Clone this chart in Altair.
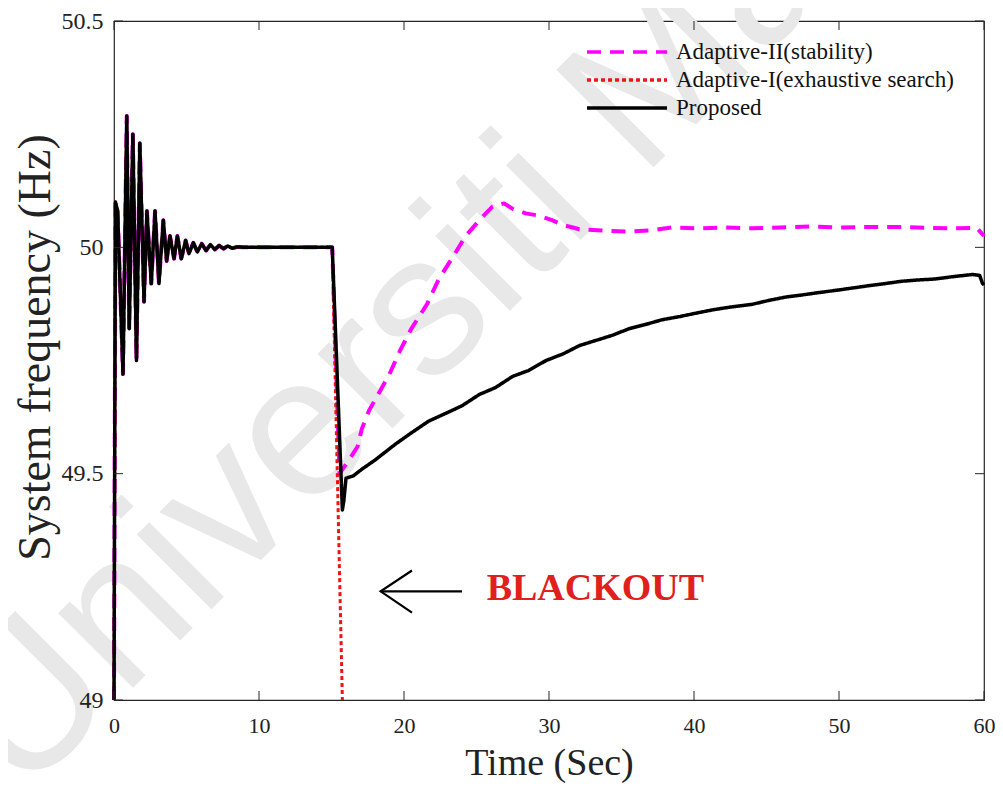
import altair as alt
import pandas as pd

# ---------------- data ----------------
SERIES = ["Adaptive-II(stability)", "Adaptive-I(exhaustive search)", "Proposed"]
COLORS = ["#ff00ff", "#f01414", "#000000"]
DASHES = [[14, 9], [4, 3], [1, 0]]

# common transient before the blackout (all three curves coincide)
PRE_T = [0.0, 0.1, 0.25, 0.62, 0.88, 1.05, 1.3, 1.55, 1.78, 2.07, 2.27, 2.57, 2.83,
         3.1, 3.4, 3.63, 3.86, 4.14, 4.37, 4.64, 4.94, 5.17, 5.47, 5.75, 6.05, 6.35,
         6.65, 6.95, 7.25, 7.55, 7.85, 8.15, 8.5, 9.0, 15.05]
PRE_F = [49.0, 50.1, 50.08, 49.72, 50.29, 49.82, 50.25, 49.75, 50.23, 49.88, 50.08, 49.92, 50.08,
         49.92, 50.06, 49.97, 50.025, 49.975, 50.025, 49.975, 50.015, 49.986, 50.01, 49.99, 50.008, 49.993,
         50.006, 49.995, 50.004, 49.997, 50.003, 49.998, 50.001, 50.0, 50.0]

PROP_T = [15.75, 15.85, 16.0, 16.5, 17.1, 18.0, 19.4, 20.5, 21.7, 23.0, 24.0, 25.2, 26.3,
          27.5, 28.6, 29.8, 31.0, 32.1, 33.3, 34.4, 35.5, 36.7, 37.8, 39.0, 40.2, 41.3,
          42.5, 44.0, 45.2, 46.3, 47.5, 48.6, 49.8, 50.9, 52.0, 53.2, 54.3, 55.5, 56.6,
          57.8, 59.2, 59.7, 59.9, 60.0]
PROP_F = [49.42, 49.44, 49.49, 49.495, 49.51, 49.53, 49.565, 49.59, 49.616, 49.635, 49.65, 49.675, 49.69,
          49.715, 49.728, 49.75, 49.765, 49.783, 49.795, 49.806, 49.82, 49.83, 49.84, 49.847, 49.855, 49.862,
          49.868, 49.874, 49.883, 49.89, 49.895, 49.9, 49.905, 49.91, 49.915, 49.92, 49.925, 49.928, 49.93,
          49.935, 49.94, 49.938, 49.92, 49.917]

AD2_T = [15.55, 16.2, 16.8, 17.1, 17.6, 18.3, 19.0, 19.7, 20.5, 21.3, 21.6, 22.4, 23.3,
         24.25, 25.2, 26.1, 26.9, 27.5, 28.4, 29.3, 30.2, 30.9, 32.1, 33.7, 35.3, 36.9,
         38.5, 40.3, 42.2, 44.0, 46.0, 48.0, 50.0, 52.0, 54.0, 56.0, 58.0, 59.5, 60.0]
AD2_F = [49.5, 49.53, 49.56, 49.6, 49.64, 49.68, 49.72, 49.77, 49.82, 49.86, 49.875, 49.93, 49.975,
         50.025, 50.06, 50.09, 50.097, 50.085, 50.075, 50.07, 50.06, 50.05, 50.04, 50.037, 50.035, 50.037,
         50.044, 50.042, 50.044, 50.042, 50.044, 50.046, 50.044, 50.045, 50.045, 50.043, 50.042, 50.043, 50.025]

AD1_T = [15.75]
AD1_F = [49.0]

X_TICKS = [0, 10, 20, 30, 40, 50, 60]
Y_TICKS = [49.0, 49.5, 50.0, 50.5]

# annotation (data units)
NOTE_TEXT = "BLACKOUT"
NOTE_X, NOTE_Y = 25.7, 49.245
ARROW_SHAFT_X = [18.39, 24.0]
ARROW_SHAFT_Y = [49.24, 49.24]
ARROW_HEAD_X = [20.55, 18.39, 20.55]
ARROW_HEAD_Y = [49.286, 49.24, 49.193]

WATERMARK = "Universiti Malaya"
WM_X, WM_Y = -6.4, 48.78

# ---------------- build tables ----------------
rows = []
for name, tt, ff in [(SERIES[0], AD2_T, AD2_F), (SERIES[1], AD1_T, AD1_F), (SERIES[2], PROP_T, PROP_F)]:
    allt = PRE_T + tt
    allf = PRE_F + ff
    for i, (a, b) in enumerate(zip(allt, allf)):
        rows.append({"series": name, "t": a, "f": b, "i": i})
df = pd.DataFrame(rows)

arrow_rows = []
for seg, xs_, ys_ in [("shaft", ARROW_SHAFT_X, ARROW_SHAFT_Y), ("head", ARROW_HEAD_X, ARROW_HEAD_Y)]:
    for i, (a, b) in enumerate(zip(xs_, ys_)):
        arrow_rows.append({"seg": seg, "x": a, "y": b, "i": i})
arrow_df = pd.DataFrame(arrow_rows)

W, H = 870, 679
X_MIN, X_MAX = 0, 60
Y_MIN, Y_MAX = 49.0, 50.5
TICK_PX = 9
dx_tick = TICK_PX * (X_MAX - X_MIN) / W
dy_tick = TICK_PX * (Y_MAX - Y_MIN) / H

xs = alt.Scale(domain=[X_MIN, X_MAX], nice=False, zero=False)
ys = alt.Scale(domain=[Y_MIN, Y_MAX], nice=False, zero=False)

FONT = "Liberation Serif"

x_axis = alt.Axis(values=X_TICKS, title="Time (Sec)", zindex=2)
y_axis = alt.Axis(values=Y_TICKS, title="System frequency (Hz)", format="~g", zindex=2)

color_scale = alt.Scale(domain=SERIES, range=COLORS)
dash_scale = alt.Scale(domain=SERIES, range=DASHES)
legend = alt.Legend(title=None, orient="none", legendX=471, legendY=18, symbolType="stroke",
                    symbolSize=6400, symbolStrokeWidth=3.5, clipHeight=26, rowPadding=2,
                    labelOffset=7, padding=0, labelFont=FONT, labelFontSize=23,
                    labelColor="#111111", labelLimit=400)

base = alt.Chart(df)

watermark = alt.Chart(pd.DataFrame({"a": [0]})).mark_text(
    text=WATERMARK, font="Liberation Sans", fontSize=200, angle=315, align="left",
    baseline="alphabetic", color="#e8e8e8"
).encode(x=alt.XDatum(WM_X), y=alt.YDatum(WM_Y))

widths = {SERIES[0]: 4, SERIES[1]: 3, SERIES[2]: 3.5}
line_layers = []
for s in SERIES:
    line_layers.append(
        base.transform_filter(alt.datum.series == s).mark_line(
            strokeWidth=widths[s], strokeJoin="round"
        ).encode(
            x=alt.X("t:Q", scale=xs, axis=x_axis),
            y=alt.Y("f:Q", scale=ys, axis=y_axis),
            color=alt.Color("series:N", scale=color_scale, legend=legend),
            strokeDash=alt.StrokeDash("series:N", scale=dash_scale, legend=legend),
            order="i:Q",
        )
    )

xt = alt.Chart(pd.DataFrame({"v": X_TICKS}))
yt = alt.Chart(pd.DataFrame({"v": Y_TICKS}))
tick_style = dict(color="#262626", strokeWidth=1)
ticks = [
    xt.mark_rule(**tick_style).encode(x="v:Q", y=alt.YDatum(Y_MIN), y2=alt.Y2Datum(Y_MIN + dy_tick)),
    xt.mark_rule(**tick_style).encode(x="v:Q", y=alt.YDatum(Y_MAX), y2=alt.Y2Datum(Y_MAX - dy_tick)),
    yt.mark_rule(**tick_style).encode(y="v:Q", x=alt.XDatum(X_MIN), x2=alt.X2Datum(X_MIN + dx_tick)),
    yt.mark_rule(**tick_style).encode(y="v:Q", x=alt.XDatum(X_MAX), x2=alt.X2Datum(X_MAX - dx_tick)),
]

arrow = alt.Chart(arrow_df).mark_line(color="black", strokeWidth=2.2).encode(
    x="x:Q", y="y:Q", detail="seg:N", order="i:Q"
)
note = alt.Chart(pd.DataFrame({"a": [0]})).mark_text(
    text=NOTE_TEXT, font=FONT, fontSize=38, fontWeight="bold", color="#e0201c",
    align="left", baseline="middle"
).encode(x=alt.XDatum(NOTE_X), y=alt.YDatum(NOTE_Y))

chart = alt.layer(watermark, *line_layers, *ticks, arrow, note).properties(
    width=W, height=H,
    autosize=alt.AutoSizeParams(type="none"),
    padding={"left": 106, "top": 13, "right": 11, "bottom": 90},
    background="white",
).configure_view(
    stroke="#262626", strokeWidth=1.2
).configure_axis(
    grid=False, ticks=False, domain=False, labelFont=FONT, labelFontSize=24,
    labelColor="#222222", labelFlush=False, titleFont=FONT, titleFontWeight="normal",
    titleColor="#222222", titleBaseline="alphabetic"
).configure_axisX(
    labelPadding=15, labelFontSize=22, titleFontSize=38, titleY=74
).configure_axisY(
    labelPadding=11, titleFontSize=46, titleX=-65, titleY=326
)

chart.save("out.html", embed_options={"renderer": "svg", "actions": False})
